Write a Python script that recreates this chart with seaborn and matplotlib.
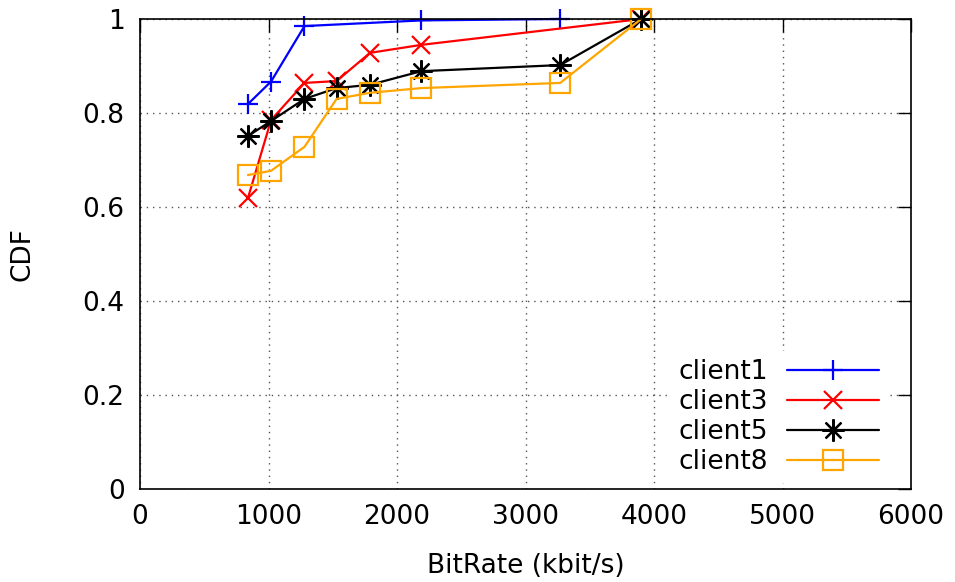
import matplotlib
matplotlib.use("Agg")
import matplotlib.pyplot as plt
import seaborn as sns
import pandas as pd

# Bit rates (kbit/s) at which the CDF is sampled
bitrate = [840, 1020, 1280, 1530, 1790, 2190, 3270, 3900]

client1_x = [840, 1020, 1280, 2190, 3270]
client1_cdf = [0.819, 0.867, 0.985, 0.997, 1.0]

client3_x = [840, 1020, 1280, 1530, 1790, 2190, 3900]
client3_cdf = [0.619, 0.785, 0.864, 0.868, 0.928, 0.945, 1.0]

client5_x = bitrate
client5_cdf = [0.751, 0.783, 0.830, 0.853, 0.860, 0.889, 0.902, 1.0]

client8_x = bitrate
client8_cdf = [0.668, 0.677, 0.728, 0.830, 0.843, 0.853, 0.864, 1.0]

x_ticks = [0, 1000, 2000, 3000, 4000, 5000, 6000]
y_ticks = [0, 0.2, 0.4, 0.6, 0.8, 1.0]
y_tick_labels = ["0", "0.2", "0.4", "0.6", "0.8", "1"]

series = [
    ("client1", client1_x, client1_cdf, "#0000ff", "+", 14),
    ("client3", client3_x, client3_cdf, "#ff0000", "x", 13),
    ("client5", client5_x, client5_cdf, "#000000", (8, 2, 0), 16),
    ("client8", client8_x, client8_cdf, "#ffa500", "s", 14.5),
]

sns.set_style("white")
plt.rcParams["font.family"] = ["DejaVu Sans"]
plt.rcParams["text.color"] = "black"
plt.rcParams["axes.labelcolor"] = "black"
plt.rcParams["xtick.color"] = "black"
plt.rcParams["ytick.color"] = "black"

fig = plt.figure(figsize=(9.55, 5.82), dpi=100)
ax = fig.add_axes([140 / 955, 1 - 489 / 582, 771 / 955, 470 / 582])

for name, xs, ys, color, marker, ms in series:
    df = pd.DataFrame({"BitRate": xs, "CDF": ys})
    sns.lineplot(
        data=df, x="BitRate", y="CDF", ax=ax, color=color, label=name,
        marker=marker, markersize=ms, markeredgewidth=1.6,
        markerfacecolor="none", markeredgecolor=color,
        linewidth=1.6, estimator=None, sort=False, clip_on=False,
    )

ax.set_xlim(0, 6000)
ax.set_ylim(0, 1)
ax.set_xticks(x_ticks)
ax.set_xticklabels([str(t) for t in x_ticks])
ax.set_yticks(y_ticks)
ax.set_yticklabels(y_tick_labels)

ax.grid(True, linestyle=(0, (1, 3.5)), color="#555555", linewidth=1.0)
ax.set_axisbelow(True)
for sp in ax.spines.values():
    sp.set_visible(True)
    sp.set_color("black")
    sp.set_linewidth(1.2)

ax.tick_params(axis="both", direction="in", length=9.5, width=1,
               top=True, right=True, labelsize=19, colors="black")
ax.tick_params(axis="x", pad=11)
ax.tick_params(axis="y", pad=11)

ax.set_xlabel("BitRate (kbit/s)", fontsize=19, color="black")
ax.set_ylabel("CDF", fontsize=19, color="black")
ax.xaxis.set_label_coords(0.5, -0.164)
ax.yaxis.set_label_coords(-0.153, 0.5)
ax.xaxis.label.set_va("center")
ax.yaxis.label.set_va("center")

leg = ax.legend(
    loc="lower right", bbox_to_anchor=(0.969, 0.013), markerfirst=False,
    frameon=True, framealpha=1, edgecolor="none", fancybox=False,
    handlelength=3.5, handletextpad=0.7, labelspacing=0.15,
    borderpad=0.3, borderaxespad=0, fontsize=19,
)
for t in leg.get_texts():
    t.set_color("black")
leg.set_zorder(5)

fig.savefig("out.png", dpi=100)
